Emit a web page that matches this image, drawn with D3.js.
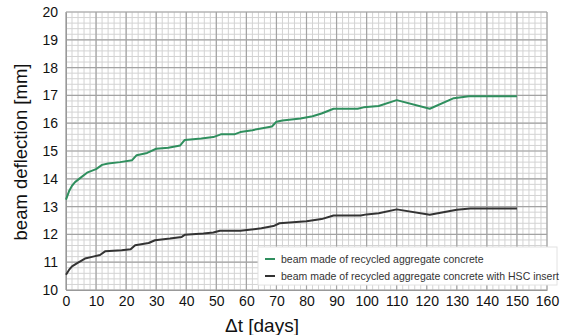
<!DOCTYPE html>
<html>
<head>
  <meta charset="utf-8">
  <script src="https://d3js.org/d3.v7.min.js"></script>
  <style>
    body { margin: 0; background: #fff; }
    text { font-family: "Liberation Sans", Arial, sans-serif; }
  </style>
</head>
<body>
  <div id="chart"></div>
  <script>
    // data
    var greenDays = [0, 1, 2, 3, 5, 7, 10, 12, 14, 18, 22, 23.5, 27, 30, 34, 38, 39.5, 45, 49, 51.5, 56, 58, 62, 68.5, 70, 72, 78, 82, 85, 89, 97, 99, 104, 110, 121, 129, 134, 150];
    var greenVals = [13.25, 13.55, 13.75, 13.88, 14.05, 14.22, 14.35, 14.5, 14.55, 14.6, 14.67, 14.85, 14.93, 15.08, 15.12, 15.2, 15.4, 15.45, 15.5, 15.6, 15.6, 15.68, 15.75, 15.88, 16.05, 16.1, 16.17, 16.25, 16.35, 16.52, 16.52, 16.57, 16.62, 16.83, 16.52, 16.9, 16.97, 16.97];

    var blackDays = [0, 1, 2, 3.6, 6.3, 9, 11.3, 13, 18.5, 21.5, 23, 27.5, 29.6, 34.6, 38.5, 39.6, 45.7, 49, 51.2, 58, 65, 69, 71, 80, 85, 89, 98, 100, 104, 110, 121, 130, 134.5, 150];
    var blackVals = [10.55, 10.72, 10.85, 10.96, 11.13, 11.2, 11.26, 11.39, 11.43, 11.47, 11.61, 11.69, 11.79, 11.85, 11.91, 11.99, 12.03, 12.07, 12.13, 12.13, 12.22, 12.3, 12.4, 12.47, 12.55, 12.68, 12.68, 12.72, 12.76, 12.9, 12.71, 12.89, 12.93, 12.93];

    var seriesNames = ["beam made of recycled aggregate concrete",
      "beam made of recycled aggregate concrete with HSC insert"];
    var seriesColors = ["#2f8f5e", "#333333"];

    var xTicks = d3.range(0, 161, 10);
    var yTicks = d3.range(10, 21, 1);

    var width = 561, height = 335;
    var margin = { top: 12, right: 14, bottom: 45, left: 66 };
    var w = width - margin.left - margin.right,
      h = height - margin.top - margin.bottom;

    var svg = d3.select("#chart").append("svg")
      .attr("width", width)
      .attr("height", height);

    var g = svg.append("g")
      .attr("transform", "translate(" + margin.left + "," + margin.top + ")");

    var x = d3.scaleLinear().domain([0, 160]).range([0, w]);
    var y = d3.scaleLinear().domain([10, 20]).range([h, 0]);

    // minor grid
    g.selectAll(".vminor").data(d3.range(0, 161, 2)).enter().append("line")
      .attr("x1", function (d) { return x(d); }).attr("x2", function (d) { return x(d); })
      .attr("y1", 0).attr("y2", h)
      .attr("stroke", "#d3d3d3").attr("stroke-width", 1);
    g.selectAll(".hminor").data(d3.range(10, 20.01, 0.2)).enter().append("line")
      .attr("y1", function (d) { return y(d); }).attr("y2", function (d) { return y(d); })
      .attr("x1", 0).attr("x2", w)
      .attr("stroke", "#d3d3d3").attr("stroke-width", 1);

    // major grid
    g.selectAll(".vmajor").data(xTicks).enter().append("line")
      .attr("x1", function (d) { return x(d); }).attr("x2", function (d) { return x(d); })
      .attr("y1", 0).attr("y2", h)
      .attr("stroke", "#a3a3a3").attr("stroke-width", 1.2);
    g.selectAll(".hmajor").data(yTicks).enter().append("line")
      .attr("y1", function (d) { return y(d); }).attr("y2", function (d) { return y(d); })
      .attr("x1", 0).attr("x2", w)
      .attr("stroke", "#a3a3a3").attr("stroke-width", 1.2);

    // axes
    var xAxis = g.append("g")
      .attr("transform", "translate(0," + h + ")")
      .call(d3.axisBottom(x).tickValues(xTicks).tickSize(0).tickPadding(6));
    var yAxis = g.append("g")
      .call(d3.axisLeft(y).tickValues(yTicks).tickSize(0).tickPadding(8));
    [xAxis, yAxis].forEach(function (a) {
      a.select(".domain").attr("stroke", "#999");
      a.selectAll("text").attr("font-size", 14).attr("fill", "#111")
        .attr("font-family", "'Liberation Sans Narrow', 'Liberation Sans', Arial, sans-serif");
    });

    // lines
    var line = d3.line()
      .x(function (d) { return x(d[0]); })
      .y(function (d) { return y(d[1]); });

    var series = [
      d3.zip(greenDays, greenVals),
      d3.zip(blackDays, blackVals)
    ];

    g.selectAll(".series").data(series).enter().append("path")
      .attr("d", line)
      .attr("fill", "none")
      .attr("stroke", function (d, i) { return seriesColors[i]; })
      .attr("stroke-width", 2)
      .attr("stroke-linejoin", "round");

    // legend
    var legend = svg.append("g").attr("transform", "translate(258,247)");
    legend.append("rect")
      .attr("width", 299).attr("height", 38)
      .attr("fill", "#fff").attr("stroke", "#e2e2e2");
    seriesNames.forEach(function (name, i) {
      var yy = 12 + i * 17;
      legend.append("line")
        .attr("x1", 7).attr("x2", 17).attr("y1", yy).attr("y2", yy)
        .attr("stroke", seriesColors[i]).attr("stroke-width", 2);
      legend.append("text")
        .attr("x", 23).attr("y", yy + 4)
        .attr("font-size", 10.5).attr("fill", "#333")
        .text(name);
    });

    // axis titles
    svg.append("text")
      .attr("transform", "translate(27,152) rotate(-90)")
      .attr("text-anchor", "middle")
      .attr("font-size", 18.5).attr("fill", "#111")
      .text("beam deflection [mm]");
    svg.append("text")
      .attr("x", 262).attr("y", 332)
      .attr("text-anchor", "middle")
      .attr("font-size", 19).attr("fill", "#111")
      .text("\u0394t [days]");
  </script>
</body>
</html>
